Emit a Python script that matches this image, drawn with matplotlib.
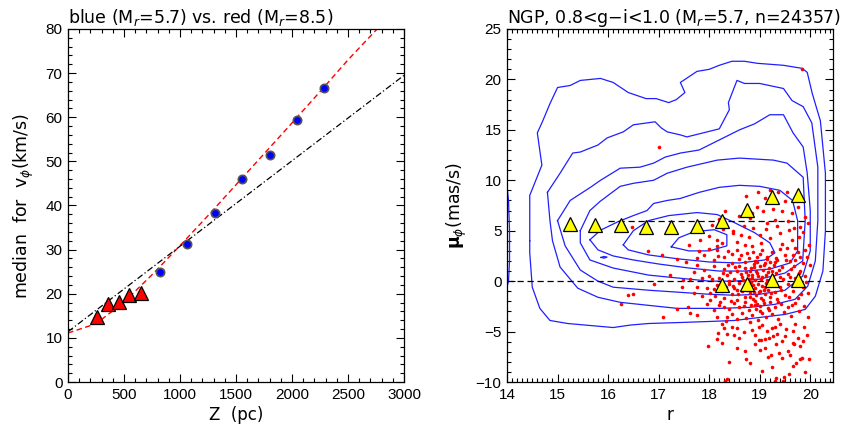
import numpy as np
import matplotlib
matplotlib.use('Agg')
import matplotlib.pyplot as plt
from matplotlib.ticker import MultipleLocator

plt.rcParams['font.family'] = ['DejaVu Sans']
plt.rcParams['mathtext.fontset'] = 'dejavusans'

# ---- left panel: median v_phi vs Z ----
blue_z = [820, 1065, 1310, 1555, 1800, 2045, 2285]
blue_v = [25.0, 31.2, 38.2, 46.0, 51.5, 59.4, 66.7]
red_z = [262, 360, 455, 547, 652]
red_v = [14.8, 17.7, 18.2, 19.7, 20.2]
# fitted curves
fit_z = [0, 250, 500, 750, 1000, 1250, 1500, 1750, 2000, 2250, 2500, 2760]
fit_v = [11.1, 13.2, 18.1, 24.3, 30.9, 37.7, 44.7, 51.7, 58.7, 65.8, 73.0, 80.0]
lin_z = [0, 3000]
lin_v = [11.4, 69.5]

# ---- right panel: mu_phi vs r ----
tri_hi_r = [15.25, 15.75, 16.25, 16.75, 17.25, 17.75, 18.25, 18.75, 19.25, 19.75]
tri_hi_mu = [5.7, 5.6, 5.55, 5.4, 5.4, 5.5, 6.0, 7.1, 8.35, 8.5]
tri_lo_r = [18.25, 18.75, 19.25, 19.75]
tri_lo_mu = [-0.4, -0.3, 0.1, 0.1]

contours = [
    # outermost piece on the left edge
    [(14.0, 9.4), (14.03, 8.0), (14.05, 5.0), (14.05, 2.0), (14.03, 0.0), (14.0, -0.6)],
    [(14.45, 4.0), (14.45, 8.5), (14.69, 11.5), (14.6, 14.7), (14.7, 15.8), (14.85, 17.6),
     (15.0, 19.2), (15.25, 19.4), (15.45, 19.9), (15.85, 20.1), (16.1, 19.7), (16.4, 18.7),
     (16.75, 18.1), (16.95, 18.1), (17.2, 17.7), (17.35, 18.0), (17.52, 18.7), (17.43, 19.7),
     (17.76, 20.8), (18.0, 21.0), (18.2, 21.4), (18.45, 21.8), (18.7, 21.8), (18.95, 21.6),
     (19.47, 21.4), (19.84, 21.1), (19.94, 20.7), (20.04, 18.6), (20.2, 15.9), (20.3, 10.7),
     (20.3, 5.0), (20.25, 1.0), (20.1, -1.5), (19.9, -2.8), (19.5, -3.3), (19.0, -3.6),
     (18.5, -3.9), (18.0, -4.0), (17.43, -4.1), (16.8, -4.2), (16.45, -4.35), (16.1, -4.6),
     (15.65, -4.4), (15.2, -4.2), (14.85, -3.9), (14.65, -2.7), (14.5, -0.6), (14.45, 2.8),
     (14.45, 4.0)],
    [(14.8, 8.8), (15.05, 10.7), (15.3, 12.7), (15.45, 12.8), (15.8, 13.5), (15.98, 14.2),
     (16.3, 14.8), (16.5, 15.5), (16.93, 15.8), (17.05, 15.2), (17.17, 14.8), (17.43, 14.5),
     (17.56, 14.3), (17.96, 14.8), (18.2, 15.1), (18.4, 17.0), (18.38, 17.7), (18.55, 19.9),
     (18.7, 19.6), (19.0, 19.6), (19.47, 19.1), (19.64, 17.9), (19.86, 17.3), (20.03, 15.7),
     (20.15, 11.3), (20.15, 6.0), (20.1, 2.0), (19.95, -0.5), (19.7, -1.8), (19.3, -2.3),
     (18.8, -2.6), (18.2, -2.7), (17.37, -2.7), (16.8, -2.4), (16.24, -2.1), (15.8, -1.6),
     (15.4, -0.7), (15.05, 1.4), (14.9, 4.0), (14.85, 6.0), (14.8, 8.8)],
    [(15.0, 6.0), (15.25, 8.0), (15.65, 9.3), (15.85, 10.0), (16.24, 11.2), (16.63, 11.3),
     (16.9, 11.7), (17.13, 12.3), (17.43, 12.7), (17.8, 13.0), (18.2, 14.0), (18.6, 15.0),
     (18.9, 15.6), (19.2, 16.5), (19.47, 16.5), (19.66, 14.7), (19.86, 13.3), (19.94, 10.7),
     (20.0, 7.0), (20.0, 3.0), (19.85, 0.5), (19.5, -0.9), (19.0, -1.3), (18.5, -1.4),
     (18.0, -1.3), (17.4, -1.1), (16.8, -0.9), (16.1, -0.6), (15.8, 0.0), (15.45, 1.1),
     (15.15, 3.5), (15.0, 6.0)],
    [(15.45, 5.0), (15.64, 7.0), (15.84, 7.9), (16.24, 9.4), (16.5, 9.7), (16.9, 10.0),
     (17.17, 10.7), (17.56, 11.3), (18.16, 12.0), (18.6, 12.2), (19.27, 12.0), (19.54, 11.7),
     (19.86, 10.3), (19.9, 6.0), (19.85, 2.0), (19.5, 0.8), (19.0, 0.2), (18.5, 0.0),
     (18.0, 0.0), (17.4, 0.3), (16.8, 0.6), (16.1, 1.3), (15.64, 2.1), (15.45, 3.8),
     (15.45, 5.0)],
    [(15.64, 4.1), (15.85, 5.05), (16.2, 5.9), (16.5, 6.5), (16.77, 7.0), (16.9, 7.7),
     (17.17, 8.0), (17.43, 8.2), (17.8, 8.8), (18.2, 9.3), (18.6, 9.5), (19.0, 9.4),
     (19.4, 9.0), (19.65, 8.0), (19.75, 6.0), (19.75, 3.0), (19.6, 1.8), (19.2, 1.2),
     (18.7, 1.0), (18.2, 1.0), (17.6, 1.3), (17.0, 1.7), (16.5, 2.1), (16.1, 2.5),
     (15.8, 3.1), (15.64, 4.1)],
    [(16.3, 3.6), (16.5, 5.0), (16.8, 6.0), (17.2, 6.5), (17.76, 6.8), (18.16, 6.6),
     (18.5, 5.8), (18.9, 4.8), (19.2, 3.8), (19.3, 2.8), (19.1, 2.1), (18.6, 1.8),
     (18.0, 1.9), (17.4, 2.2), (16.8, 2.6), (16.4, 3.1), (16.3, 3.6)],
    [(17.25, 3.4), (17.4, 4.3), (17.7, 4.9), (18.1, 5.1), (18.35, 4.6), (18.35, 3.5),
     (18.0, 3.0), (17.6, 3.0), (17.25, 3.4)],
    [(15.86, 2.35), (15.92, 2.45), (15.98, 2.38), (15.92, 2.28), (15.86, 2.35)],
]

dots_r = [
    19.84, 17.0, 16.47, 16.79, 17.06, 17.37, 17.23, 16.91, 16.5, 16.4, 16.26, 17.36, 17.08,
    # mu > 4
    17.82, 18.05, 18.32, 18.15, 18.48, 18.48, 18.68, 18.87, 18.94, 19.07, 18.97, 19.37, 19.54,
    19.27, 19.44, 19.64, 19.67, 19.8, 19.86, 19.97, 19.64, 18.55, 18.2, 18.6, 18.8, 19.15,
    19.3, 19.55, 19.9, 19.75, 19.1, 18.78, 19.0, 19.2, 19.4,
    # 2 < mu < 4
    18.38, 18.55, 18.15, 18.15, 19.93, 20.0, 19.8, 19.7, 19.54, 19.4, 17.6, 17.9, 18.0,
    18.3, 18.6, 18.75, 18.85, 18.95, 19.05, 19.15, 19.25, 19.35, 19.5, 19.6, 19.75, 19.9,
    18.45, 18.7, 19.02, 18.25, 17.75, 18.1, 19.45, 18.9, 19.7,
    # 0 < mu < 2
    17.49, 17.62, 17.69, 17.9, 17.75, 18.0, 18.1, 18.2, 18.3, 18.35, 18.45, 18.5, 18.55,
    18.6, 18.65, 18.7, 18.72, 18.78, 18.82, 18.85, 18.88, 18.9, 18.93, 18.97, 19.0, 19.03,
    19.06, 19.1, 19.12, 19.18, 19.22, 19.28, 19.32, 19.4, 19.45, 19.55, 19.62, 19.7, 19.8,
    19.9, 18.4, 18.95, 19.25, 18.62, 18.8, 19.15,
    # -2 < mu < 0
    17.46, 17.76, 18.02, 18.02, 17.85, 18.15, 18.25, 18.3, 18.4, 18.45, 18.5, 18.55, 18.6,
    18.65, 18.7, 18.75, 18.8, 18.83, 18.86, 18.9, 18.93, 18.96, 19.0, 19.02, 19.05, 19.1,
    19.13, 19.17, 19.2, 19.25, 19.3, 19.35, 19.4, 19.5, 19.55, 19.65, 19.75, 19.85, 19.95,
    18.1, 18.68, 18.88, 19.08,
    # -4 < mu < -2
    17.59, 17.62, 17.76, 18.09, 18.15, 18.25, 18.35, 18.34, 17.95, 18.2, 18.4, 18.45, 18.5,
    18.55, 18.6, 18.65, 18.7, 18.72, 18.78, 18.82, 18.85, 18.9, 18.92, 18.96, 19.0, 19.04,
    19.08, 19.12, 19.16, 19.2, 19.24, 19.3, 19.36, 19.42, 19.48, 19.55, 19.62, 19.7, 19.78,
    19.88, 19.95, 18.3, 18.95,
    # -6 < mu < -4
    18.15, 18.18, 18.35, 18.45, 18.55, 18.6, 18.68, 18.8, 18.99, 19.02, 19.11, 19.15, 19.19,
    19.26, 19.31, 19.5, 19.52, 19.87, 19.93, 18.85, 19.05, 19.4, 19.65, 19.75, 18.3, 19.45,
    18.9,
    # mu < -6
    17.97, 18.4, 18.36, 18.72, 18.81, 19.23, 19.17, 19.24, 19.33, 19.44, 19.66, 19.67, 19.66,
    19.72, 19.8, 19.84, 19.97, 19.33, 19.49, 18.32, 19.3, 19.47, 19.0, 19.55, 18.55, 19.9,
    # extra points in the dense core and the wings
    18.42, 18.48, 18.52, 18.58, 18.63, 18.66, 18.69, 18.71, 18.74, 18.76, 18.79, 18.81, 18.84,
    18.87, 18.89, 18.91, 18.94, 18.98, 19.01, 19.04, 19.07, 19.09, 19.11, 19.14, 19.16, 19.19,
    19.21, 19.23, 19.27, 19.29, 19.33, 19.37, 19.39, 19.43, 19.47, 19.52, 19.57, 19.6, 19.64,
    19.68, 19.72, 19.77, 19.82, 19.86, 19.92, 18.05, 18.12, 18.18, 18.22, 18.27, 18.33, 18.37,
    18.43, 17.7, 17.85, 17.95, 17.55, 17.8, 18.0, 18.28, 18.62, 18.84, 19.12, 19.34, 19.58,
    19.78, 19.95, 19.5, 19.2, 18.72, 18.9, 19.1, 19.38, 19.6, 19.8, 18.7, 19.05, 19.58,
    18.5, 19.25, 19.7, 18.98, 19.35, 19.85, 18.25, 19.0, 18.55, 19.3, 18.86, 19.66,
]
dots_mu = [
    21.0, 13.3, 5.4, 3.0, 2.6, 2.15, 0.6, -0.3, -1.3, -1.4, -2.25, -2.8, -3.6,
    4.1, 5.55, 7.0, 4.05, 4.75, 5.0, 5.45, 5.25, 7.35, 7.0, 8.85, 8.85, 8.85,
    7.2, 7.0, 6.8, 5.25, 5.4, 4.9, 3.6, 4.05, 3.9, 6.2, 6.5, 6.3, 5.8,
    6.1, 6.0, 6.4, 7.4, 8.2, 4.4, 4.6, 4.3, 4.8,
    3.0, 3.1, 3.5, 3.1, 2.4, 1.6, 2.4, 3.3, 3.25, 3.2, 3.6, 2.6, 3.2,
    2.4, 2.2, 2.8, 3.5, 2.4, 3.1, 2.2, 2.9, 2.1, 2.6, 2.0, 2.9, 3.1,
    2.7, 3.6, 3.8, 3.8, 2.3, 2.1, 3.7, 2.0, 2.1,
    0.15, 0.25, 0.9, 1.1, 1.6, 0.5, 1.5, 0.3, 1.2, 0.6, 1.8, 0.2, 1.0,
    1.5, 0.4, 1.9, 0.9, 0.2, 1.3, 0.6, 1.7, 0.1, 1.0, 0.5, 1.5, 0.2,
    1.1, 1.8, 0.6, 1.3, 0.3, 1.6, 0.8, 0.4, 1.4, 0.7, 1.2, 0.3, 1.0,
    0.5, 0.0, 1.9, 1.0, 0.7, 1.0, 0.1,
    -0.55, -0.55, -1.2, -1.9, -1.5, -0.4, -1.0, -1.7, -0.3, -1.3, -0.7, -1.9, -0.2,
    -1.0, -1.6, -0.5, -1.2, -0.1, -1.8, -0.7, -1.4, -0.3, -1.0, -1.7, -0.5, -1.3,
    -0.2, -0.9, -1.6, -0.4, -1.1, -1.8, -0.6, -1.4, -0.3, -1.0, -1.7, -0.6, -1.2,
    -0.8, -0.6, -1.05, -0.85,
    -2.55, -3.2, -3.35, -2.9, -3.55, -4.2, -3.55, -4.0, -2.3, -2.4, -2.8, -3.3, -2.2,
    -3.8, -2.6, -3.2, -2.1, -3.7, -2.9, -2.4, -3.4, -2.0, -2.8, -3.9, -2.5, -3.2,
    -2.2, -3.6, -2.7, -2.1, -3.3, -2.6, -3.8, -2.3, -3.1, -2.6, -3.5, -2.2, -3.0,
    -2.5, -3.6, -2.6, -2.3,
    -5.75, -5.1, -5.2, -4.5, -4.6, -5.6, -5.0, -4.1, -5.8, -5.85, -5.7, -4.9, -5.6,
    -5.45, -4.5, -5.45, -4.7, -4.5, -5.35, -4.8, -4.3, -4.2, -4.9, -5.6, -4.6, -5.9,
    -5.3,
    -6.45, -8.05, -9.75, -7.7, -8.15, -7.3, -7.5, -8.5, -6.25, -7.6, -6.1, -6.2, -8.4,
    -8.1, -7.7, -7.6, -7.7, -9.65, -9.55, -9.9, -9.95, -9.9, -6.8, -6.9, -6.6, -9.0,
    # extra points
    0.9, -0.5, 1.4, -1.3, 2.6, 0.1, -2.5, 1.3, -0.9, 0.6, 2.3, -1.6, 0.3,
    -0.4, 1.4, -2.4, 0.8, -1.1, 2.7, 0.4, -1.9, 1.6, -0.6, 2.4, 0.9, -2.9,
    1.9, -1.2, 0.5, -0.2, 2.3, -2.1, 1.1, -0.9, 0.2, 2.1, -1.6, 0.4, -2.4,
    1.5, -0.4, 0.8, -1.3, 1.8, -0.1, 0.2, -1.5, 2.5, -2.1, 0.8, -0.6, 1.6,
    -2.0, -1.2, 0.3, -0.7, 1.9, 3.0, 4.5, 5.2, 4.6, 6.8, 5.2, 5.5, 5.1,
    4.4, 5.8, 7.9, 9.0, 8.4, -6.2, -6.6, -7.1, -7.3, -6.4, -6.9, -8.9, -9.2,
    -5.3, -4.6, -4.2, -4.5, -5.2, -5.9, -6.1, -3.0, -0.9, 1.9, 2.9, 2.6,
]


def style_axes(ax):
    ax.tick_params(which='both', direction='in', top=True, right=True,
                   labelsize=11, width=0.8, pad=4)
    ax.tick_params(which='major', length=6)
    ax.tick_params(which='minor', length=3)
    for lab in ax.get_xticklabels() + ax.get_yticklabels():
        lab.set_family('Liberation Sans')
    for s in ax.spines.values():
        s.set_linewidth(0.9)


def make_left(ax):
    ax.plot(fit_z, fit_v, color='#ff0000', lw=1.0, dashes=(4, 2.5))
    ax.plot(lin_z, lin_v, color='black', lw=0.9, dashes=(5, 2, 1, 2))
    ax.plot(blue_z, blue_v, 'o', ms=6, mfc='#0000ff', mec='#555555', mew=1.2)
    ax.plot(red_z, red_v, '^', ms=9.5, mfc='#ff0000', mec='black', mew=0.9)
    ax.set_xlim(0, 3000)
    ax.set_ylim(0, 80)
    ax.xaxis.set_major_locator(MultipleLocator(500))
    ax.xaxis.set_minor_locator(MultipleLocator(100))
    ax.yaxis.set_major_locator(MultipleLocator(10))
    ax.yaxis.set_minor_locator(MultipleLocator(2))
    style_axes(ax)
    ax.set_xlabel('Z  (pc)', fontsize=12, labelpad=3)
    ax.set_ylabel(r'median  for  v$_\phi$(km/s)', fontsize=12.5, labelpad=7)
    ax.set_title(r'blue (M$_r$=5.7) vs. red (M$_r$=8.5)', loc='left',
                 fontsize=12.5, pad=4)


def make_right(ax):
    for c in contours:
        c = np.array(c)
        ax.plot(c[:, 0], c[:, 1], color='#1f1fff', lw=0.9)
    ax.plot([14.0, 20.2], [0, 0], color='black', lw=0.9, dashes=(5, 3))
    ax.plot([16.0, 19.9], [6.0, 6.0], color='black', lw=0.9, dashes=(5, 3))
    ax.plot(dots_r, dots_mu, 'o', ms=2.6, mfc='#ff0000', mec='none')
    ax.plot(tri_hi_r, tri_hi_mu, '^', ms=10, mfc='#ffff00', mec='black', mew=0.9)
    ax.plot(tri_lo_r, tri_lo_mu, '^', ms=10, mfc='#ffff00', mec='black', mew=0.9)
    ax.set_xlim(14, 20.45)
    ax.set_ylim(-10, 25)
    ax.xaxis.set_major_locator(MultipleLocator(1))
    ax.xaxis.set_minor_locator(MultipleLocator(0.1))
    ax.yaxis.set_major_locator(MultipleLocator(5))
    ax.yaxis.set_minor_locator(MultipleLocator(1))
    style_axes(ax)
    ax.set_xlabel('r', fontsize=12, labelpad=3)
    ax.set_ylabel(r'$\mathbf{\mu}_\phi$(mas/s)', fontsize=12.5, labelpad=5)
    ax.set_title(r'NGP, 0.8<g$-$i<1.0 (M$_r$=5.7, n=24357)', loc='left',
                 fontsize=12.5, pad=4)


def main():
    fig = plt.figure(figsize=(8.41, 4.25), dpi=100)
    ax1 = fig.add_axes([68 / 841, 43 / 425, 336 / 841, 353 / 425])
    ax2 = fig.add_axes([507 / 841, 43 / 425, 326 / 841, 353 / 425])
    make_left(ax1)
    make_right(ax2)
    fig.savefig('out.png', dpi=100)


if __name__ == '__main__':
    main()
